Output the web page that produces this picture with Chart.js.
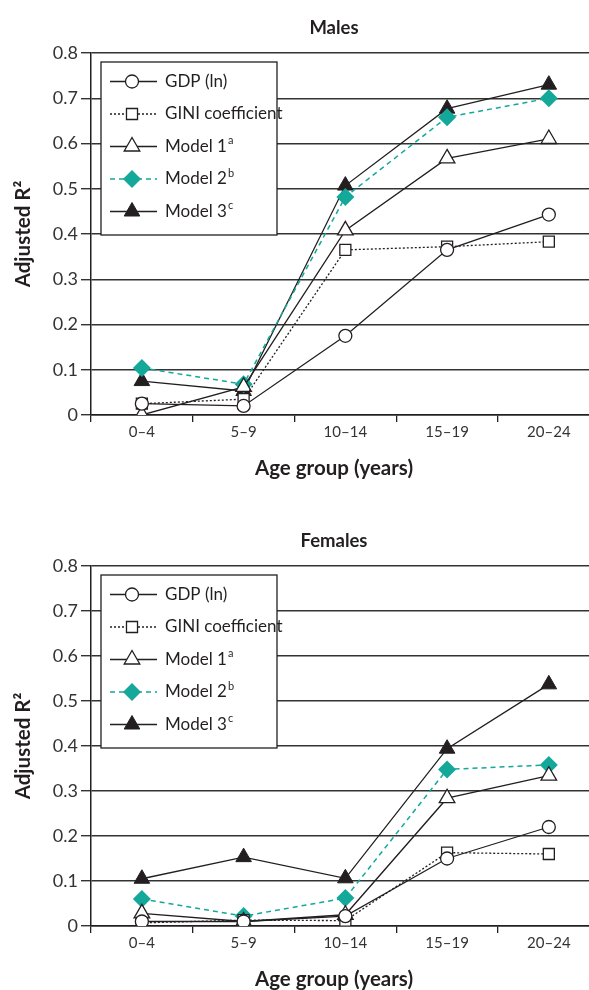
<!DOCTYPE html>
<html>
<head>
<meta charset="utf-8">
<script src="https://cdn.jsdelivr.net/npm/chart.js@4/dist/chart.umd.min.js"></script>
<style>
  html, body { margin: 0; padding: 0; background: #fff; }
  #wrap { position: relative; width: 589px; height: 990px; overflow: hidden; }
  canvas { position: absolute; left: 0; }
</style>
</head>
<body>
<div id="wrap">
  <canvas id="males" width="610" height="495" style="top:0"></canvas>
  <canvas id="females" width="610" height="495" style="top:495px"></canvas>
</div>
<script>
// categories and ticks
const ageGroups = ['0–4', '5–9', '10–14', '15–19', '20–24'];
const yTicks = [0, 0.1, 0.2, 0.3, 0.4, 0.5, 0.6, 0.7, 0.8];

// Males
const malesGdp    = [0.025, 0.020, 0.175, 0.365, 0.443];
const malesGini   = [0.025, 0.035, 0.365, 0.372, 0.383];
const malesModel1 = [0.000, 0.062, 0.408, 0.567, 0.610];
const malesModel2 = [0.104, 0.068, 0.482, 0.658, 0.700];
const malesModel3 = [0.075, 0.053, 0.507, 0.677, 0.730];

// Females
const femalesGdp    = [0.010, 0.010, 0.022, 0.150, 0.220];
const femalesGini   = [0.007, 0.013, 0.012, 0.163, 0.160];
const femalesModel1 = [0.028, 0.010, 0.025, 0.284, 0.334];
const femalesModel2 = [0.060, 0.022, 0.062, 0.348, 0.358];
const femalesModel3 = [0.105, 0.153, 0.106, 0.394, 0.537];

const legendLabels = ['GDP (ln)', 'GINI coefficient', 'Model 1', 'Model 2', 'Model 3'];
const legendSups = ['', '', 'a', 'b', 'c'];

const FONT = 'Lato, "Open Sans", sans-serif';
const TEAL = '#13a89a';
const INK = '#231f20';

function makeDatasets(gdp, gini, m1, m2, m3) {
  return [
    { label: legendLabels[0], data: gdp, borderColor: INK, borderWidth: 1.3,
      pointStyle: 'circle', pointRadius: 6.5, pointBackgroundColor: '#fff', pointBorderColor: INK, pointBorderWidth: 1.3 },
    { label: legendLabels[1], data: gini, borderColor: INK, borderWidth: 1.3, borderDash: [2, 2],
      pointStyle: 'rect', pointRadius: 7.8, pointBackgroundColor: '#fff', pointBorderColor: INK, pointBorderWidth: 1.3 },
    { label: legendLabels[2], data: m1, borderColor: INK, borderWidth: 1.3,
      pointStyle: 'triangle', pointRadius: 9, pointBackgroundColor: '#fff', pointBorderColor: INK, pointBorderWidth: 1.3 },
    { label: legendLabels[3], data: m2, borderColor: TEAL, borderWidth: 1.5, borderDash: [5, 4],
      pointStyle: 'rectRot', pointRadius: 9, pointBackgroundColor: TEAL, pointBorderColor: TEAL, pointBorderWidth: 0 },
    { label: legendLabels[4], data: m3, borderColor: INK, borderWidth: 1.3,
      pointStyle: 'triangle', pointRadius: 9, pointBackgroundColor: INK, pointBorderColor: INK, pointBorderWidth: 1 }
  ];
}

// simple marker painter for the legend
function marker(ctx, ds, x, y) {
  const r = ds.pointRadius;
  ctx.beginPath();
  if (ds.pointStyle === 'circle') {
    ctx.arc(x, y, r, 0, Math.PI * 2);
  } else if (ds.pointStyle === 'rect') {
    const s = r * Math.SQRT1_2;
    ctx.rect(x - s, y - s, 2 * s, 2 * s);
  } else if (ds.pointStyle === 'triangle') {
    const h = r * Math.sin(Math.PI / 3);
    ctx.moveTo(x, y - r);
    ctx.lineTo(x + h, y + r / 2);
    ctx.lineTo(x - h, y + r / 2);
    ctx.closePath();
  } else if (ds.pointStyle === 'rectRot') {
    ctx.moveTo(x, y - r); ctx.lineTo(x + r, y); ctx.lineTo(x, y + r); ctx.lineTo(x - r, y);
    ctx.closePath();
  }
  ctx.fillStyle = ds.pointBackgroundColor;
  ctx.fill();
  if (ds.pointBorderWidth > 0) {
    ctx.lineWidth = ds.pointBorderWidth;
    ctx.strokeStyle = ds.pointBorderColor;
    ctx.stroke();
  }
}

const decor = {
  id: 'decor',
  afterDraw(chart, args, opts) {
    const ctx = chart.ctx, a = chart.chartArea;
    ctx.save();
    ctx.fillStyle = INK;
    ctx.textAlign = 'center';
    ctx.textBaseline = 'middle';
    // panel title
    ctx.font = 'bold 18.5px ' + FONT;
    ctx.fillText(opts.title, 334, a.top - 25);
    // x axis title
    ctx.font = 'bold 20.5px ' + FONT;
    ctx.fillText('Age group (years)', 334, a.bottom + 53);
    // y axis title
    ctx.save();
    ctx.translate(23, (a.top + a.bottom) / 2);
    ctx.rotate(-Math.PI / 2);
    ctx.fillText('Adjusted R²', 0, 0);
    ctx.restore();

    // legend box
    const x0 = a.left + 10, y0 = a.top + 9, w = 176, h = 173;
    ctx.fillStyle = '#fff';
    ctx.fillRect(x0, y0, w, h);
    ctx.lineWidth = 1.3;
    ctx.strokeStyle = INK;
    ctx.strokeRect(x0, y0, w, h);
    chart.data.datasets.forEach((ds, i) => {
      const y = y0 + 19.5 + i * 32.5;
      ctx.beginPath();
      ctx.setLineDash(ds.borderDash || []);
      ctx.strokeStyle = ds.borderColor;
      ctx.lineWidth = ds.borderWidth;
      ctx.moveTo(x0 + 9, y);
      ctx.lineTo(x0 + 56, y);
      ctx.stroke();
      ctx.setLineDash([]);
      marker(ctx, ds, x0 + 31, y);
      ctx.fillStyle = INK;
      ctx.textAlign = 'left';
      ctx.font = '17px ' + FONT;
      ctx.fillText(legendLabels[i], x0 + 64, y);
      if (legendSups[i]) {
        const tw = ctx.measureText(legendLabels[i]).width;
        ctx.font = '11px ' + FONT;
        ctx.fillText(legendSups[i], x0 + 65 + tw, y - 6);
      }
    });
    ctx.restore();
  }
};

function build(id, title, datasets, padTop, xHeight) {
  return new Chart(document.getElementById(id), {
    type: 'line',
    data: { labels: ageGroups, datasets: datasets },
    plugins: [decor],
    options: {
      responsive: false,
      animation: false,
      devicePixelRatio: 1,
      layout: { padding: { top: padTop, right: 9, bottom: 0, left: 0 } },
      plugins: {
        legend: { display: false },
        tooltip: { enabled: false },
        decor: { title: title }
      },
      scales: {
        x: {
          offset: true,
          afterFit: s => { s.height = xHeight; },
          grid: { offset: true, drawOnChartArea: false, drawTicks: true, tickLength: 7, color: INK, lineWidth: 1.3 },
          border: { color: INK, width: 1.5 },
          ticks: { color: '#333', font: { family: FONT, size: 15 }, padding: 1 }
        },
        y: {
          min: 0,
          max: 0.8,
          afterFit: s => { s.width = 91; },
          afterBuildTicks: s => { s.ticks = yTicks.map(v => ({ value: v })); },
          grid: { color: '#333', lineWidth: 1.4, tickLength: 10 },
          border: { color: INK, width: 1.5 },
          ticks: {
            color: '#333', font: { family: FONT, size: 18 }, padding: 3,
            callback: v => v === 0 ? '0' : v.toFixed(1)
          }
        }
      }
    }
  });
}

build('males', 'Males',
  makeDatasets(malesGdp, malesGini, malesModel1, malesModel2, malesModel3), 53, 80);
build('females', 'Females',
  makeDatasets(femalesGdp, femalesGini, femalesModel1, femalesModel2, femalesModel3), 71, 64);
</script>
</body>
</html>
